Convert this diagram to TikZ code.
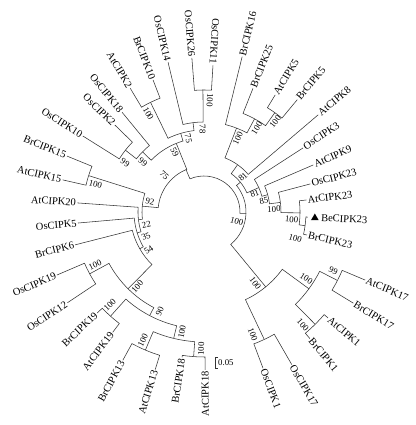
\documentclass[tikz,border=0pt]{standalone}
\usepackage{fontspec}
\setmainfont{Liberation Serif}
\usetikzlibrary{shapes.geometric}

\tikzset{
  branch/.style={line width=0.55pt, draw=black!80},
  leaflabel/.style={font=\fontsize{10.5}{12}\selectfont, inner sep=1.2pt},
  bslabel/.style={font=\fontsize{8.8}{10}\selectfont, inner sep=0pt}
}

\begin{document}
\begin{tikzpicture}[x=1pt, y=1pt]
  \useasboundingbox (0,0) rectangle (415,425);

  \begin{scope}[shift={(204,213)}]
    % leaves: name/angle/radius
    \foreach \nm/\ang/\rad in {OsCIPK11/86.5/147, BrCIPK16/76.2/160, BrCIPK25/68.4/133,
        AtCIPK5/58.7/137, BrCIPK5/50.3/146, AtCIPK8/40.4/150, OsCIPK3/32.9/118,
        AtCIPK9/23.3/119, OsCIPK23/14.8/110, AtCIPK23/6.7/103, BrCIPK23/-12.6/105.5,
        AtCIPK17/-22.9/175, BrCIPK17/-31.4/175, AtCIPK1/-40.5/163, BrCIPK1/-50.1/165,
        OsCIPK17/-60.1/176, OsCIPK1/-69.3/167, AtCIPK18/270.4/158, BrCIPK18/261.4/147,
        AtCIPK13/252.8/165, BrCIPK13/241.3/169, AtCIPK19/232.8/151, BrCIPK19/223.4/147,
        OsCIPK12/213.6/164, OsCIPK19/203.2/160, BrCIPK6/194.3/133, OsCIPK5/185/126.5,
        AtCIPK20/175.9/127, AtCIPK15/167.2/145, BrCIPK15/157.8/148, OsCIPK10/147.9/143,
        OsCIPK2/135.7/124.5, OsCIPK18/129.4/129, AtCIPK2/120.8/144, BrCIPK10/111.1/141.5,
        OsCIPK14/103.5/154, OsCIPK26/94.5/154.5} {
      \coordinate (\nm) at (\ang:\rad pt);
      \pgfmathtruncatemacro\flip{(\ang>80 && \ang<275) ? 1 : 0}
      \ifnum\flip=1
        \node[leaflabel, anchor=east, rotate=\ang-180] (\nm-txt) at (\nm) {\nm};
      \else
        \node[leaflabel, anchor=west, rotate=\ang] (\nm-txt) at (\nm) {\nm};
      \fi
    }
    % marked leaf
    \coordinate (BeCIPK23) at (-2.8:104pt);
    \node[regular polygon, regular polygon sides=3, fill=black, inner sep=0pt,
          minimum size=9pt] (BeMark) at (-3.1:111pt) {};
    \node[leaflabel, anchor=west, rotate=-2.8] (BeCIPK23-txt) at (-2.8:116pt) {BeCIPK23};

    % internal nodes: name/angle/radius
    \foreach \nm/\ang/\rad in {root/113/36, A/113/46, N59/112/74, N75a/106.5/82,
        N78/97/90, A26/90.5/122, A2/116/122, A18/135.6/86, A10/141.8/100,
        N92/174.6/62, A15/162.5/121, X22/186.7/66, Y35/197.4/70, Z54/209.8/74,
        D100/225.3/108, D12/208.4/130, D90/242.3/117, D19/228.1/140,
        D1318/256.5/130, D13/247/150, D18/265.9/145,
        BC/-2/42, B/39.3/47, B8/54.6/58, B16/68.8/90, B25/61.5/106, B5/54.5/122,
        B81/24/60, B85/15.2/66, B23c/7.15/77, B23b/-0.5/96, B23a/-7.7/102,
        C/-50.5/97, C1/-36.2/130, C17/-27.15/150, C1p/-45.3/158, COs/-64.7/141}
      \coordinate (\nm) at (\ang:\rad pt);

    % branches: parent/angle/radius/child/child angle
    \foreach \p/\pa/\pr/\c/\ca in {root/113/36/A/113, root/113/36/BC/-2,
        A/113/46/N59/112, A/113/46/N92/174.6,
        N59/112/74/N75a/106.5, N59/112/74/A18/135.6,
        N75a/106.5/82/A2/116, N75a/106.5/82/N78/97,
        N78/97/90/OsCIPK14/103.5, N78/97/90/A26/90.5,
        A26/90.5/122/OsCIPK26/94.5, A26/90.5/122/OsCIPK11/86.5,
        A2/116/122/AtCIPK2/120.8, A2/116/122/BrCIPK10/111.1,
        A18/135.6/86/OsCIPK18/129.4, A18/135.6/86/A10/141.8,
        A10/141.8/100/OsCIPK2/135.7, A10/141.8/100/OsCIPK10/147.9,
        N92/174.6/62/A15/162.5, N92/174.6/62/X22/186.7,
        A15/162.5/121/AtCIPK15/167.2, A15/162.5/121/BrCIPK15/157.8,
        X22/186.7/66/AtCIPK20/175.9, X22/186.7/66/Y35/197.4,
        Y35/197.4/70/OsCIPK5/185, Y35/197.4/70/Z54/209.8,
        Z54/209.8/74/BrCIPK6/194.3, Z54/209.8/74/D100/225.3,
        D100/225.3/108/D12/208.4, D100/225.3/108/D90/242.3,
        D12/208.4/130/OsCIPK19/203.2, D12/208.4/130/OsCIPK12/213.6,
        D90/242.3/117/D19/228.1, D90/242.3/117/D1318/256.5,
        D19/228.1/140/BrCIPK19/223.4, D19/228.1/140/AtCIPK19/232.8,
        D1318/256.5/130/D13/247, D1318/256.5/130/D18/265.9,
        D13/247/150/BrCIPK13/241.3, D13/247/150/AtCIPK13/252.8,
        D18/265.9/145/BrCIPK18/261.4, D18/265.9/145/AtCIPK18/270.4,
        BC/-2/42/B/39.3, BC/-2/42/C/-50.5,
        B/39.3/47/B8/54.6, B/39.3/47/B81/24,
        B8/54.6/58/B16/68.8, B8/54.6/58/AtCIPK8/40.4,
        B16/68.8/90/BrCIPK16/76.2, B16/68.8/90/B25/61.5,
        B25/61.5/106/BrCIPK25/68.4, B25/61.5/106/B5/54.5,
        B5/54.5/122/AtCIPK5/58.7, B5/54.5/122/BrCIPK5/50.3,
        B81/24/60/OsCIPK3/32.9, B81/24/60/B85/15.2,
        B85/15.2/66/AtCIPK9/23.3, B85/15.2/66/B23c/7.15,
        B23c/7.15/77/OsCIPK23/14.8, B23c/7.15/77/B23b/-0.5,
        B23b/-0.5/96/AtCIPK23/6.7, B23b/-0.5/96/B23a/-7.7,
        B23a/-7.7/102/BeCIPK23/-2.8, B23a/-7.7/102/BrCIPK23/-12.6,
        C/-50.5/97/C1/-36.2, C/-50.5/97/COs/-64.7,
        C1/-36.2/130/C17/-27.15, C1/-36.2/130/C1p/-45.3,
        C17/-27.15/150/AtCIPK17/-22.9, C17/-27.15/150/BrCIPK17/-31.4,
        C1p/-45.3/158/AtCIPK1/-40.5, C1p/-45.3/158/BrCIPK1/-50.1,
        COs/-64.7/141/OsCIPK17/-60.1, COs/-64.7/141/OsCIPK1/-69.3}
      \draw[branch] (\p) arc[start angle=\pa, end angle=\ca, radius=\pr pt] -- (\c);

    % bootstrap values
    \foreach \nm/\ang/\rad/\val in {A26/87/112/100, N78/91/83/78, N75a/102/75/75,
        N59/116/67/59, A2/119.5/113/100, A18/140.7/79/99, A10/148/93/99,
        A/137.5/54/75, A15/165.6/112/100, N92/169/55/92, X22/192.5/59/22,
        Y35/203/63/35, Z54/214.4/67/54, D12/205.9/121/100, D100/228.2/100/100,
        D19/224.5/132/100, D90/246/109/90, D1318/259.6/122/100, D13/244.5/142/100,
        D18/268.8/137/100, BC/-16/34/100, B/42/52.5/81, B81/20/54/81,
        B85/10.6/61/85, B23c/2.4/70/100, B23b/-5/88/100, B23a/-16/95/100,
        B16/65.3/81/100, B25/57.8/99/100, B5/51.7/115/100, C/-54.3/88/100,
        C1/-33/122/100, C17/-24.5/142/99, C1p/-48.8/150/100, COs/-68.3/132/100} {
      \pgfmathtruncatemacro\flip{(\ang>80 && \ang<275) ? 1 : 0}
      \ifnum\flip=1
        \node[bslabel, rotate=\ang-180] (\nm-bs) at (\ang:\rad pt) {\val};
      \else
        \node[bslabel, rotate=\ang] (\nm-bs) at (\ang:\rad pt) {\val};
      \fi
    }
  \end{scope}

  % scale bar
  \coordinate (sbtop) at (215,68);
  \coordinate (sbbot) at (215,57);
  \draw[branch] ([xshift=3pt]sbtop) -- (sbtop) -- (sbbot) -- ([xshift=3pt]sbbot);
  \node[bslabel, anchor=west, inner sep=1pt] (sblabel) at (217,62.5) {0.05};
\end{tikzpicture}
\end{document}
